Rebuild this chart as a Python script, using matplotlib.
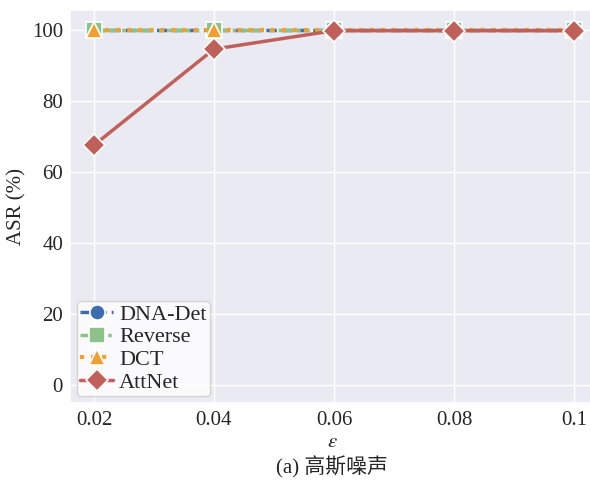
import matplotlib
matplotlib.use("Agg")
import matplotlib.pyplot as plt
import seaborn as sns

sns.set_theme(style="darkgrid")
plt.rcParams['font.family'] = ['Liberation Serif', 'Noto Sans CJK SC']
plt.rcParams['mathtext.fontset'] = 'stix'

eps = [0.02, 0.04, 0.06, 0.08, 0.1]
eps_labels = ["0.02", "0.04", "0.06", "0.08", "0.1"]
dna_det = [100, 100, 100, 100, 100]
reverse = [100, 100, 100, 100, 100]
dct = [100, 100, 100, 100, 100]
attnet = [67.5, 94.5, 99.7, 99.7, 99.7]

fig = plt.figure(figsize=(5.9, 4.84), dpi=100)
ax = fig.add_axes([70/590, 1-403/484, 525/590, 393/484])

ax.plot(eps, dna_det, color='#3D6DB0', ls=(0, (3, 1.5)), lw=2.5, marker='o', ms=11,
        mec='white', mew=1.2, label='DNA-Det')
ax.plot(eps, reverse, color='#8DC38B', ls='-.', lw=2.5, marker='s', ms=11,
        mec='white', mew=1.2, label='Reverse')
ax.plot(eps, dct, color='#F0A030', ls=':', lw=3, marker='^', ms=12,
        mec='white', mew=1.2, label='DCT')
ax.plot(eps, attnet, color='#C0605A', ls='-', lw=2.5, marker='D', ms=11,
        mec='white', mew=1.2, label='AttNet')

ax.set_xlim(0.016, 0.1035)
ax.set_ylim(-5, 105.5)
ax.set_xticks(eps)
ax.set_xticklabels(eps_labels)
ax.set_yticks([0, 20, 40, 60, 80, 100])
ax.tick_params(axis='both', labelsize=15, length=0)
ax.tick_params(axis='x', pad=6)
ax.tick_params(axis='y', pad=5)
ax.set_ylabel('ASR (%)', fontsize=15, labelpad=4)
ax.set_xlabel('$\\varepsilon$', fontsize=15, labelpad=2)
fig.text(332/590, 1-467/484, '(a) 高斯噪声', fontsize=15, ha='center', va='center')

leg = ax.legend(loc='lower left', fontsize=16, frameon=True, handlelength=1.5,
                borderpad=0.15, labelspacing=0.1, handletextpad=0.25,
                borderaxespad=0.3, facecolor='white', edgecolor='#cccccc')

fig.savefig('out.png', dpi=100)
